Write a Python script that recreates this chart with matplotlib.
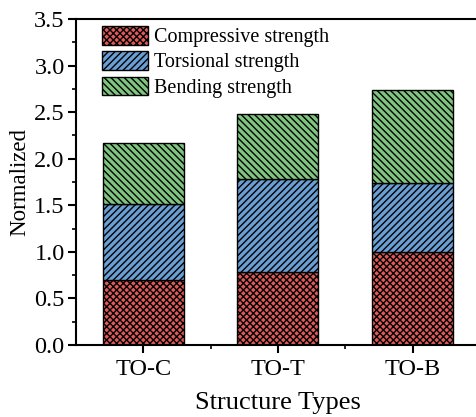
import numpy as np
import matplotlib
matplotlib.use("Agg")
import matplotlib.pyplot as plt
from matplotlib.ticker import MultipleLocator, FixedLocator

plt.rcParams['font.family'] = ['Liberation Serif', 'DejaVu Serif']
plt.rcParams['hatch.linewidth'] = 1.0

# data
structures = ['TO-C', 'TO-T', 'TO-B']
compressive = [0.70, 0.78, 1.00]
torsional = [0.815, 1.00, 0.735]
bending = [0.65, 0.70, 1.00]

series_names = ['Compressive strength', 'Torsional strength', 'Bending strength']
colors = ['#e05a5a', '#6a9fd4', '#7fc47f']
hatches = ['xxxxx', '/////', '\\\\\\\\\\']

fig = plt.figure(figsize=(4.77, 4.17), dpi=100)
ax = fig.add_axes([0.159, 0.173, 0.847, 0.781])

x = np.arange(len(structures))
bottom = np.zeros(len(structures))
for vals, name, c, h in zip([compressive, torsional, bending], series_names, colors, hatches):
    ax.bar(x, vals, 0.6, bottom=bottom, color=c, edgecolor='black', hatch=h,
           linewidth=1.0, label=name)
    bottom += np.array(vals)

ax.set_xlim(-0.5, 2.5)
ax.set_ylim(0, 3.5)
ax.yaxis.set_major_locator(MultipleLocator(0.5))
ax.yaxis.set_minor_locator(MultipleLocator(0.25))
ax.set_xticks(x)
ax.set_xticklabels(structures)
ax.xaxis.set_minor_locator(FixedLocator([0.5, 1.5]))
ax.yaxis.set_major_formatter(matplotlib.ticker.FormatStrFormatter('%.1f'))

ax.tick_params(which='major', direction='out', length=6, width=1.5, labelsize=17.5)
ax.tick_params(axis='y', which='major', pad=2)
ax.tick_params(axis='x', which='major', pad=4)
ax.tick_params(which='minor', direction='out', length=3, width=1.2)
for s in ax.spines.values():
    s.set_linewidth(1.5)

ax.set_xlabel('Structure Types', fontsize=19, labelpad=9)
ax.set_ylabel('Normalized', fontsize=16.5, labelpad=3)

ax.legend(loc='upper left', bbox_to_anchor=(0.064, 0.979), frameon=False, fontsize=14.5,
          handlelength=2.3, handleheight=1.05, labelspacing=0.2, handletextpad=0.3,
          borderaxespad=0, borderpad=0)

plt.savefig('out.png', dpi=100)
